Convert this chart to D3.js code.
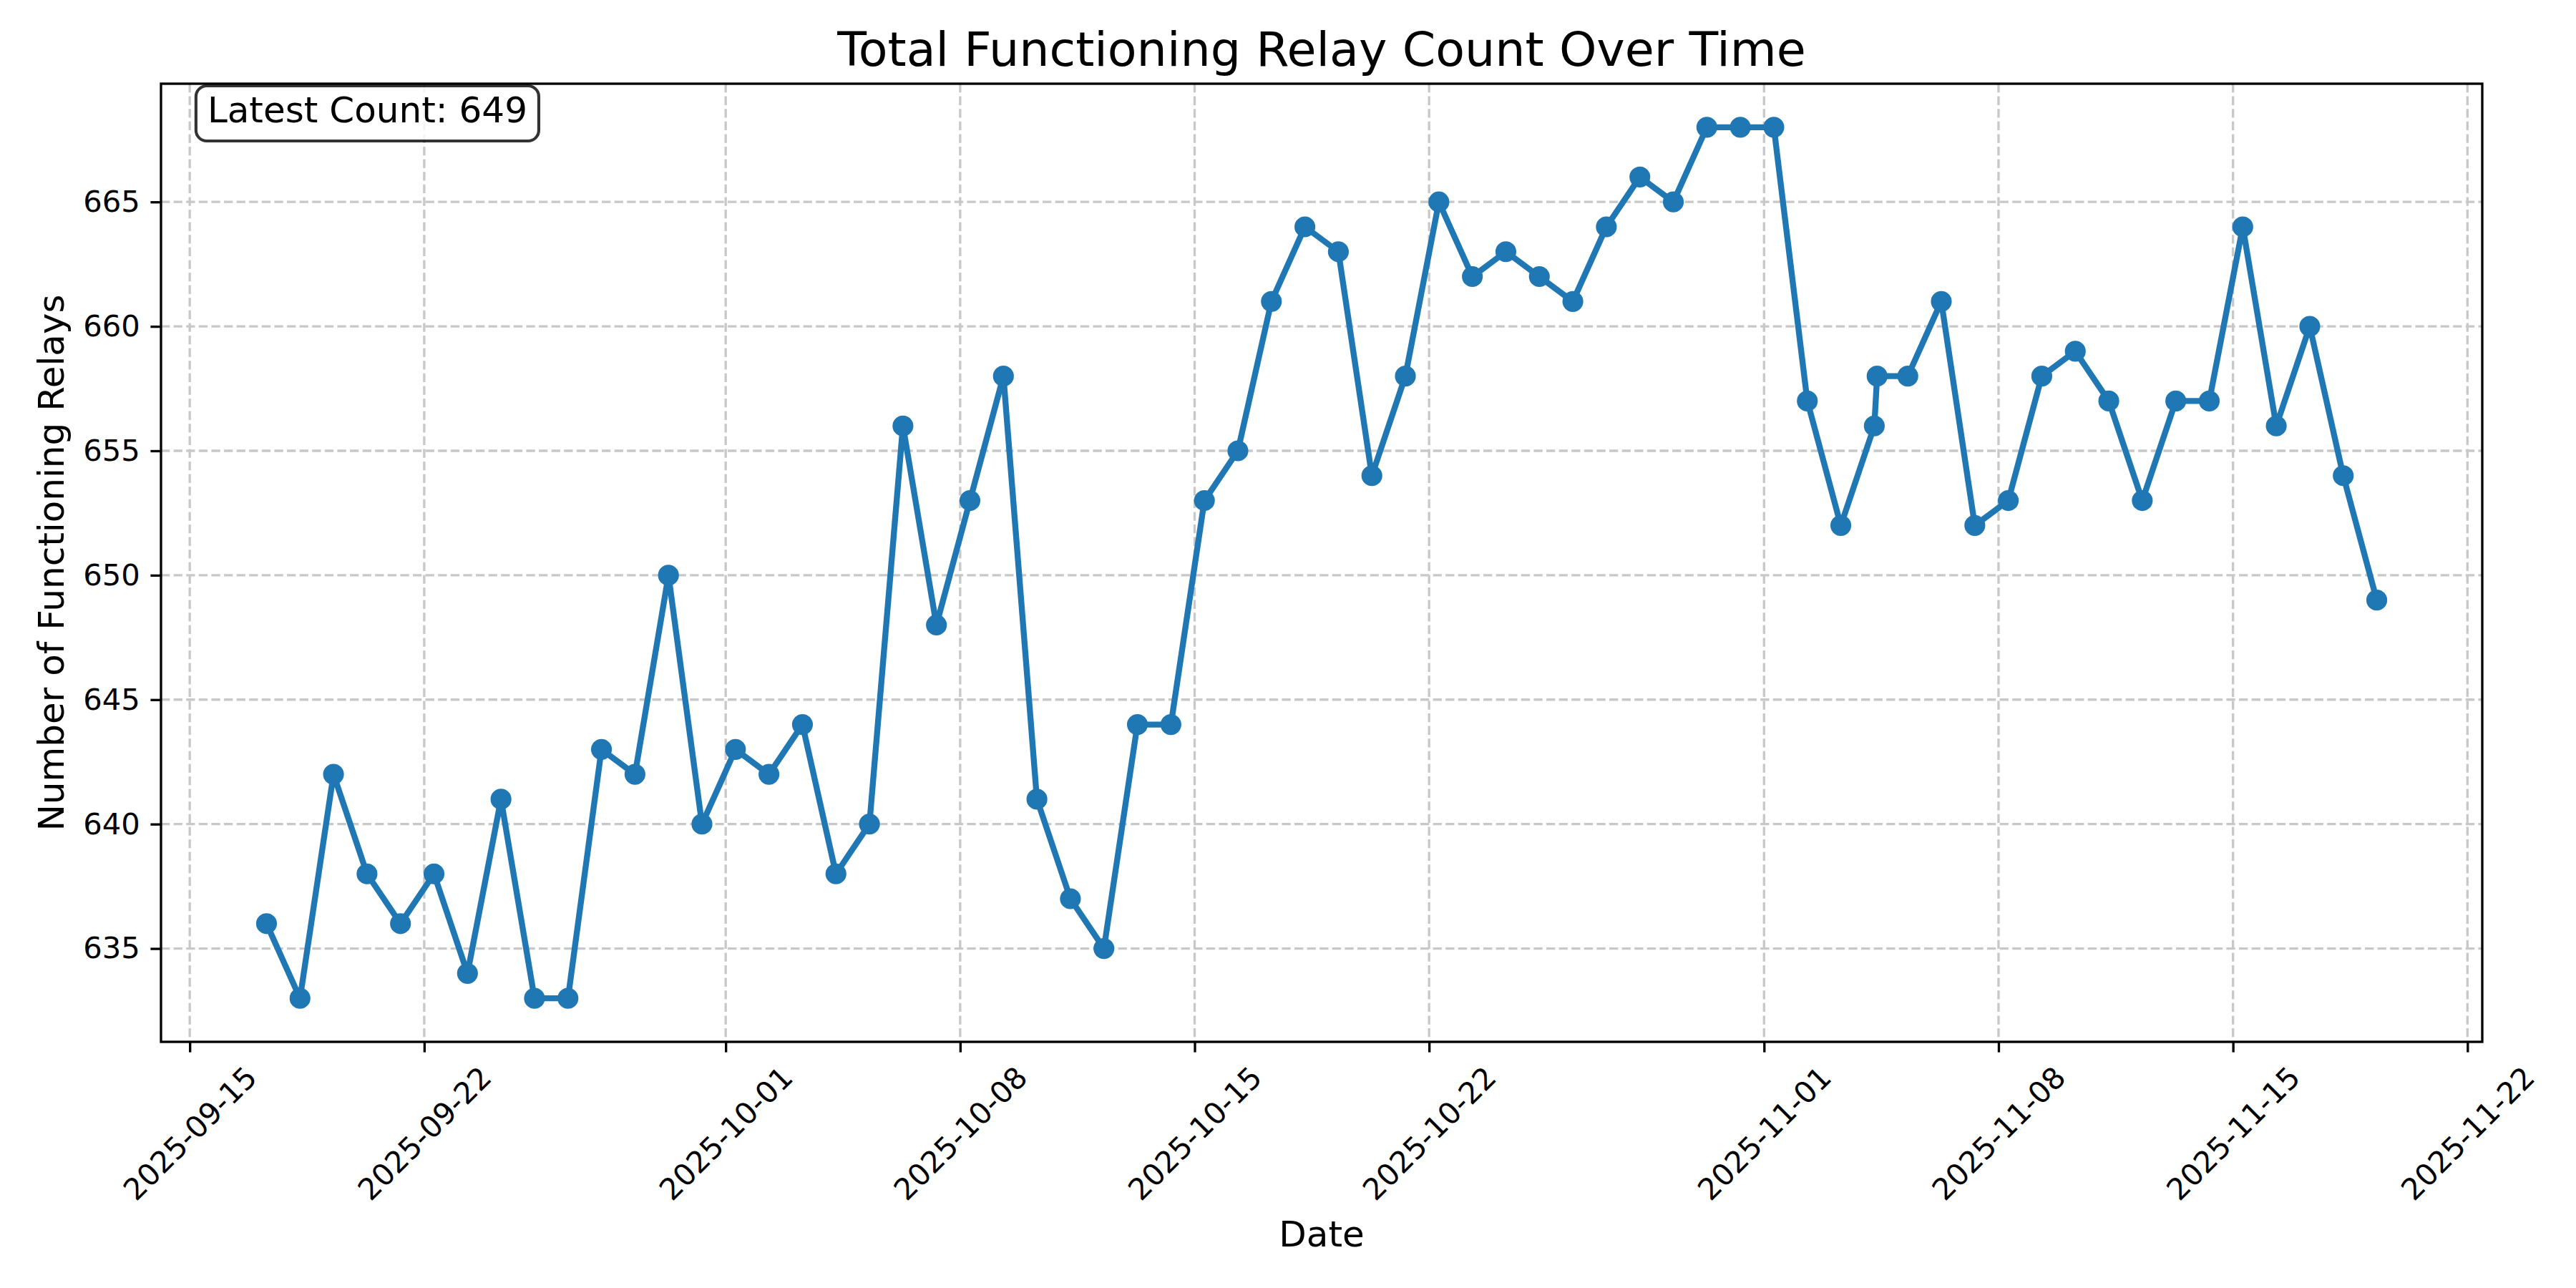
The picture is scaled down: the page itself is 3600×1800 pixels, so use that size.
<!DOCTYPE html>
<html>
<head>
<meta charset="utf-8">
<script src="https://cdn.jsdelivr.net/npm/d3@7"></script>
<style>
    body { margin: 0; background: #fff; }
    svg { display: block; }
</style>
</head>
<body>
<script>
const TIMES = [
    "2025-09-17 07:00", "2025-09-18 07:00", "2025-09-19 07:00", "2025-09-20 07:00",
    "2025-09-21 07:00", "2025-09-22 07:00", "2025-09-23 07:00", "2025-09-24 07:00",
    "2025-09-25 07:00", "2025-09-26 07:00", "2025-09-27 07:00", "2025-09-28 07:00",
    "2025-09-29 07:00", "2025-09-30 07:00", "2025-10-01 07:00", "2025-10-02 07:00",
    "2025-10-03 07:00", "2025-10-04 07:00", "2025-10-05 07:00", "2025-10-06 07:00",
    "2025-10-07 07:00", "2025-10-08 07:00", "2025-10-09 07:00", "2025-10-10 07:00",
    "2025-10-11 07:00", "2025-10-12 07:00", "2025-10-13 07:00", "2025-10-14 07:00",
    "2025-10-15 07:00", "2025-10-16 07:00", "2025-10-17 07:00", "2025-10-18 07:00",
    "2025-10-19 07:00", "2025-10-20 07:00", "2025-10-21 07:00", "2025-10-22 07:00",
    "2025-10-23 07:00", "2025-10-24 07:00", "2025-10-25 07:00", "2025-10-26 07:00",
    "2025-10-27 07:00", "2025-10-28 07:00", "2025-10-29 07:00", "2025-10-30 07:00",
    "2025-10-31 07:00", "2025-11-01 07:00", "2025-11-02 07:00", "2025-11-03 07:00",
    "2025-11-04 07:00", "2025-11-04 09:00", "2025-11-05 07:00", "2025-11-06 07:00",
    "2025-11-07 07:00", "2025-11-08 07:00", "2025-11-09 07:00", "2025-11-10 07:00",
    "2025-11-11 07:00", "2025-11-12 07:00", "2025-11-13 07:00", "2025-11-14 07:00",
    "2025-11-15 07:00", "2025-11-16 07:00", "2025-11-17 07:00", "2025-11-18 07:00",
    "2025-11-19 07:00"
];

const COUNTS = [
    636, 633, 642, 638, 636, 638, 634, 641, 633, 633, 643, 642,
    650, 640, 643, 642, 644, 638, 640, 656, 648, 653, 658, 641,
    637, 635, 644, 644, 653, 655, 661, 664, 663, 654, 658, 665,
    662, 663, 662, 661, 664, 666, 665, 668, 668, 668, 657, 652,
    656, 658, 658, 661, 652, 653, 658, 659, 657, 653, 657, 657,
    664, 656, 660, 654, 649
];

const X_TICKS = [
    "2025-09-15", "2025-09-22", "2025-10-01", "2025-10-08", "2025-10-15",
    "2025-10-22", "2025-11-01", "2025-11-08", "2025-11-15", "2025-11-22"
];

const Y_TICKS = [635, 640, 645, 650, 655, 660, 665];

const parseTime = d3.timeParse("%Y-%m-%d %H:%M");
const parseDay = d3.timeParse("%Y-%m-%d");

const data = TIMES.map((t, i) => ({ date: parseTime(t), count: COUNTS[i] }));

drawChart(data);

function drawChart(data){
    const W = 3600, H = 1800;
    const margin = {top: 117, right: 131, bottom: 344, left: 225},
        width  = W - margin.left - margin.right,
        height = H - margin.top - margin.bottom;

    const font = "'DejaVu Sans', sans-serif";
    const blue = "#1f77b4";

    const svg = d3.select("body")
        .append("svg")
        .attr("width", W)
        .attr("height", H)
        .attr("viewBox", "0 0 " + W + " " + H);

    svg.append("rect").attr("width", W).attr("height", H).attr("fill", "#fff");

    const chart = svg.append("g")
        .attr("transform", "translate(" + margin.left + "," + margin.top + ")");

    // matplotlib style 5% margins
    const xExt = d3.extent(data, d => d.date);
    const xPad = (xExt[1] - xExt[0]) * 0.05;
    const yExt = d3.extent(data, d => d.count);
    const yPad = (yExt[1] - yExt[0]) * 0.05;

    const xScale = d3.scaleTime()
        .domain([new Date(+xExt[0] - xPad), new Date(+xExt[1] + xPad)])
        .range([0, width]);

    const yScale = d3.scaleLinear()
        .domain([yExt[0] - yPad, yExt[1] + yPad])
        .range([height, 0]);

    const xTickDates = X_TICKS.map(parseDay);

    // grid
    const grid = chart.append("g")
        .attr("stroke", "#c8c8c8")
        .attr("stroke-width", 3.33)
        .attr("stroke-dasharray", "12.3,5.3");

    grid.selectAll(".vgrid")
        .data(xTickDates)
        .enter()
        .append("line")
        .attr("class", "vgrid")
        .attr("x1", d => xScale(d))
        .attr("x2", d => xScale(d))
        .attr("y1", 0)
        .attr("y2", height);

    grid.selectAll(".hgrid")
        .data(Y_TICKS)
        .enter()
        .append("line")
        .attr("class", "hgrid")
        .attr("x1", 0)
        .attr("x2", width)
        .attr("y1", d => yScale(d))
        .attr("y2", d => yScale(d));

    // line + markers
    const line = d3.line()
        .x(d => xScale(d.date))
        .y(d => yScale(d.count));

    chart.append("path")
        .datum(data)
        .attr("fill", "none")
        .attr("stroke", blue)
        .attr("stroke-width", 8.33)
        .attr("stroke-linejoin", "round")
        .attr("stroke-linecap", "square")
        .attr("d", line);

    chart.selectAll(".dot")
        .data(data)
        .enter()
        .append("circle")
        .attr("class", "dot")
        .attr("cx", d => xScale(d.date))
        .attr("cy", d => yScale(d.count))
        .attr("r", 12.5)
        .attr("fill", blue)
        .attr("stroke", blue)
        .attr("stroke-width", 4.17);

    // axes
    const xAxis = chart.append("g")
        .attr("transform", "translate(0," + height + ")")
        .call(d3.axisBottom(xScale)
            .tickValues(xTickDates)
            .tickFormat(d3.timeFormat("%Y-%m-%d"))
            .tickSize(14.6)
            .tickSizeOuter(0));

    xAxis.select(".domain").remove();
    xAxis.selectAll(".tick line")
        .attr("stroke", "#000")
        .attr("stroke-width", 3.33);
    xAxis.selectAll(".tick text")
        .attr("x", 0)
        .attr("y", 0)
        .attr("dy", null)
        .attr("fill", "#000")
        .attr("font-family", font)
        .attr("font-size", "41.7px")
        .attr("text-anchor", "middle")
        .attr("dominant-baseline", "central")
        .attr("transform", "translate(0,128) rotate(-45)");

    const yAxis = chart.append("g")
        .call(d3.axisLeft(yScale)
            .tickValues(Y_TICKS)
            .tickFormat(d3.format("d"))
            .tickSize(14.6)
            .tickPadding(14.6)
            .tickSizeOuter(0));

    yAxis.select(".domain").remove();
    yAxis.selectAll(".tick line")
        .attr("stroke", "#000")
        .attr("stroke-width", 3.33);
    yAxis.selectAll(".tick text")
        .attr("fill", "#000")
        .attr("font-family", font)
        .attr("font-size", "41.7px");

    // frame
    chart.append("rect")
        .attr("x", 0)
        .attr("y", 0)
        .attr("width", width)
        .attr("height", height)
        .attr("fill", "none")
        .attr("stroke", "#000")
        .attr("stroke-width", 3.33);

    // latest count box
    const last = data[data.length - 1];
    const note = chart.append("g");
    const noteText = note.append("text")
        .attr("x", 0.02 * width)
        .attr("y", 54)
        .attr("font-family", font)
        .attr("font-size", "50px")
        .attr("fill", "#000")
        .text("Latest Count: " + last.count);
    const bb = noteText.node().getBBox();
    note.insert("rect", "text")
        .attr("x", bb.x - 16)
        .attr("y", 3)
        .attr("width", bb.width + 32)
        .attr("height", 77)
        .attr("rx", 15)
        .attr("ry", 15)
        .attr("fill", "#fff")
        .attr("fill-opacity", 0.8)
        .attr("stroke", "#000")
        .attr("stroke-opacity", 0.8)
        .attr("stroke-width", 4.17);

    // titles
    svg.append("text")
        .attr("x", margin.left + width / 2)
        .attr("y", 92)
        .attr("text-anchor", "middle")
        .attr("font-family", font)
        .attr("font-size", "66.7px")
        .text("Total Functioning Relay Count Over Time");

    svg.append("text")
        .attr("x", margin.left + width / 2)
        .attr("y", 1742)
        .attr("text-anchor", "middle")
        .attr("font-family", font)
        .attr("font-size", "50px")
        .text("Date");

    svg.append("text")
        .attr("transform", "translate(89," + (margin.top + height / 2) + ") rotate(-90)")
        .attr("text-anchor", "middle")
        .attr("font-family", font)
        .attr("font-size", "50px")
        .text("Number of Functioning Relays");
}
</script>
</body>
</html>
